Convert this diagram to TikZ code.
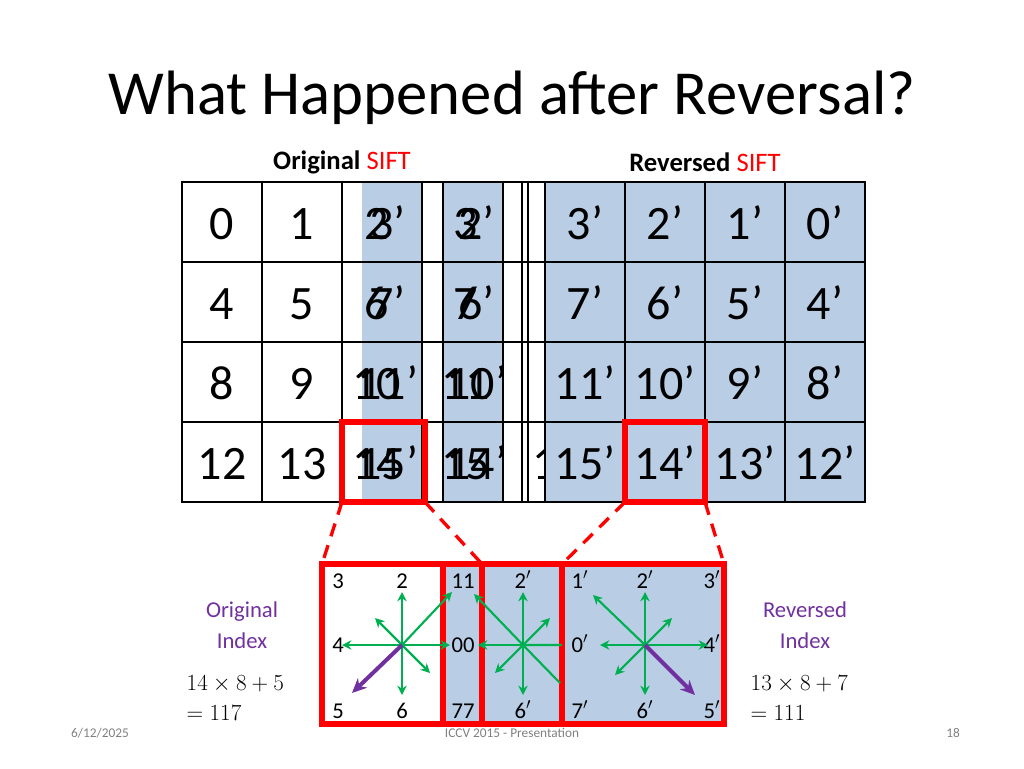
\documentclass[tikz,border=0pt]{standalone}
\usepackage{fontspec}
\setmainfont{Carlito}
\usetikzlibrary{arrows.meta}
\definecolor{cellblue}{RGB}{185,205,229}
\definecolor{arrgreen}{RGB}{0,176,80}
\definecolor{idxpurple}{RGB}{112,48,160}
\tikzset{
  cell/.style={draw=black, line width=2pt},
  big/.style={font=\fontsize{36}{38}\selectfont, anchor=base},
  small/.style={font=\fontsize{17}{19}\selectfont, anchor=base},
  redbox/.style={draw=red, line width=4.5pt},
  grn/.style={arrgreen, line width=1.6pt, -{Stealth[length=7pt,width=7pt]}},
  pur/.style={idxpurple, line width=3pt, -{Stealth[length=11pt,width=10pt]}},
}
\begin{document}
\begin{tikzpicture}[x=0.75pt,y=-0.75pt]
\useasboundingbox (0,0) rectangle (1024,768);
\node[font=\fontsize{47}{50}\selectfont] (title) at (512,98) {What Happened after Reversal?};
\node[font=\fontsize{20}{22}\selectfont\bfseries] (orig) at (342,162) {Original \textcolor{red}{\mdseries SIFT}};
\node[font=\fontsize{20}{22}\selectfont\bfseries] (rev) at (705,162) {Reversed \textcolor{red}{\mdseries SIFT}};
% original grid
\foreach \r in {0,...,3}
  \foreach \c in {0,...,3}
    \draw[cell, fill=white] (182+80*\c,182+80*\r) rectangle ++(80,80);
% sliding copies
\fill[cellblue] (362,182) rectangle (422,502);
\fill[cellblue] (443,182) rectangle (503,502);
\foreach \x in {342,422,443,503,522,528,545}
  \draw[cell] (\x,182) -- (\x,502);
\foreach \y in {182,262,342,422,502}
  \draw[cell] (342,\y) -- (545,\y);
% reversed grid
\foreach \r in {0,...,3}
  \foreach \c in {0,...,3}
    \draw[cell, fill=cellblue] (545+80*\c,182+80*\r) rectangle ++(80,80);
\foreach \t [count=\i from 0] in {0,1} \node[big] (o0\i) at (222+80*\i,239) {\t};
\foreach \t [count=\i from 0] in {4,5} \node[big] (o1\i) at (222+80*\i,319) {\t};
\foreach \t [count=\i from 0] in {8,9} \node[big] (o2\i) at (222+80*\i,399) {\t};
\foreach \t [count=\i from 0] in {12,13} \node[big] (o3\i) at (222+80*\i,479) {\t};
\foreach \a/\b/\y [count=\k] in {2/3'/239,6/7'/319,10/11'/399,14/15'/479}
  \node[big] (ma\k) at (385,\y) {\rlap{\a}\hspace{4pt}\b};
\foreach \a/\b/\y [count=\k] in {3/2'/239,7/6'/319,11/10'/399,15/14'/479}
  \node[big] (mb\k) at (474,\y) {\rlap{\a}\hspace{4pt}\b};
\begin{scope}
  \clip (528,422) rectangle (545,502);
  \node[big, anchor=base west] (mc) at (528,479) {1};
\end{scope}
\foreach \t [count=\i from 0] in {3',2',1',0'} \node[big] (r0\i) at (585+80*\i,239) {\t};
\foreach \t [count=\i from 0] in {7',6',5',4'} \node[big] (r1\i) at (585+80*\i,319) {\t};
\foreach \t [count=\i from 0] in {11',10',9',8'} \node[big] (r2\i) at (585+80*\i,399) {\t};
\foreach \t [count=\i from 0] in {15',14',13',12'} \node[big] (r3\i) at (585+80*\i,479) {\t};
% selected cells
\draw[redbox] (342,422) rectangle (425,502);
\draw[redbox] (625,422) rectangle (705,502);
% zoomed cells
\fill[cellblue] (443,564) rectangle (724,724);
\draw[redbox] (322,564) rectangle (443,724);
\draw[redbox] (443,564) rectangle (482,724);
\draw[redbox] (482,564) rectangle (562,724);
\draw[redbox] (562,564) rectangle (724,724);
\draw[red, line width=2.5pt, dash pattern=on 10pt off 7pt] (342,502) -- (322,564) (425,502) -- (482,564) (625,502) -- (562,564) (705,502) -- (724,564);
% left star
\coordinate (lc) at (402,645);
\foreach \t/\x/\y in {3/338/588,2/402/588,4/338/652,5/338/718,6/402/718}
  \node[small] (l\t) at (\x,\y) {\t};
\draw[grn] (lc) -- (402,592);
\draw[grn] (lc) -- (402,695);
\draw[grn] (lc) -- (342,645);
\draw[grn] (lc) -- (450,645);
\draw[grn] (lc) -- (452,592);
\draw[grn] (lc) -- (375,618);
\draw[grn] (lc) -- (430,673);
\draw[pur] (lc) -- (352,693);
% middle star
\coordinate (mcen) at (523,645);
\foreach \t/\y [count=\k] in {11/588,00/652,77/718}
  \node[small] (mm\k) at (463,\y) {\t};
\node[small] (m2) at (523,588) {2$'$};
\node[small] (m6) at (523,718) {6$'$};
\draw[grn] (mcen) -- (523,592);
\draw[grn] (mcen) -- (523,695);
\draw[grn] (mcen) -- (478,645);
\draw[grn] (mcen) -- (550,618);
\draw[grn] (mcen) -- (495,673);
\draw[grn] (mcen) -- (474,594);
\draw[arrgreen, line width=1.6pt] (mcen) -- (560,683) (mcen) -- (562,645);
% right star
\coordinate (rc) at (645,645);
\foreach \t/\x/\y [count=\k] in {1/580/588,2/645/588,3/712/588,0/580/652,4/712/652,7/580/718,6/645/718,5/712/718}
  \node[small] (rr\k) at (\x,\y) {\t$'$};
\draw[grn] (rc) -- (645,592);
\draw[grn] (rc) -- (645,695);
\draw[grn] (rc) -- (600,645);
\draw[grn] (rc) -- (708,645);
\draw[grn] (rc) -- (593,595);
\draw[grn] (rc) -- (672,618);
\draw[grn] (rc) -- (615,675);
\draw[pur] (rc) -- (695,695);
% index labels
\node[font=\fontsize{17}{23}\selectfont, text=idxpurple, align=center] (oi) at (242,625) {Original\\Index};
\node[font=\fontsize{17}{23}\selectfont, text=idxpurple, align=center] (ri) at (805,625) {Reversed\\Index};
\node[small, anchor=base west] (oe1) at (182,690) {$14\times8+5$};
\node[small, anchor=base west] (oe2) at (182,720) {$=117$};
\node[small, anchor=base west] (re1) at (746,690) {$13\times8+7$};
\node[small, anchor=base west] (re2) at (746,720) {$=111$};
% footer
\node[font=\fontsize{10}{12}\selectfont, text=gray] (date) at (100,733) {6/12/2025};
\node[font=\fontsize{10}{12}\selectfont, text=gray] (conf) at (512,733) {ICCV 2015 - Presentation};
\node[font=\fontsize{10}{12}\selectfont, text=gray] (page) at (953,733) {18};
\end{tikzpicture}
\end{document}
